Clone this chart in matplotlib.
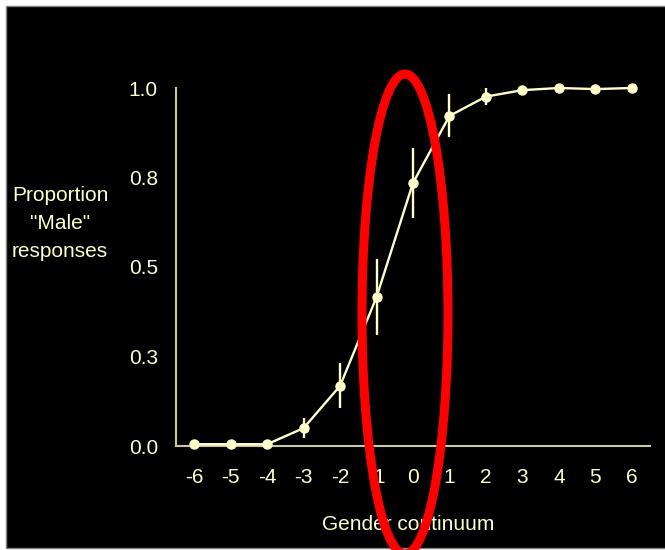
import matplotlib
matplotlib.use("Agg")
import matplotlib.pyplot as plt
from matplotlib.patches import Ellipse, Rectangle

plt.rcParams['font.family'] = ['Liberation Sans', 'DejaVu Sans']

# gender continuum steps and proportion of "male" responses
steps = [-6, -5, -4, -3, -2, -1, 0, 1, 2, 3, 4, 5, 6]
prop_male = [0.005, 0.005, 0.005, 0.05, 0.168, 0.416, 0.735, 0.922, 0.976, 0.994, 1.0, 0.997, 1.0]
err = [0, 0, 0, 0.028, 0.063, 0.106, 0.098, 0.06, 0.023, 0, 0, 0, 0]

y_ticks = [0, 0.25, 0.5, 0.75, 1.0]
y_tick_labels = ["0.0", "0.3", "0.5", "0.8", "1.0"]

cream = "#FFFFCC"
axis_col = "#C8C8A8"

fig = plt.figure(figsize=(6.65, 5.5), dpi=100)
fig.patch.set_facecolor("white")

# black slide area with a thin grey frame
fig.patches.append(Rectangle((6 / 665, 2 / 550), 665 / 665, 542 / 550,
                             transform=fig.transFigure, facecolor="black",
                             edgecolor="#808080", linewidth=1, zorder=-5))

ax = fig.add_axes([176 / 665, 1 - 446 / 550, 474 / 665, 358 / 550])
ax.set_facecolor("none")
ax.set_zorder(2)

ax.errorbar(steps, prop_male, yerr=err, color=cream, ecolor=cream,
            elinewidth=1.7, capsize=0, marker="o", markersize=6.5,
            linewidth=1.7, clip_on=False, zorder=3)

ax.set_xlim(-6.5, 6.5)
ax.set_ylim(0, 1)
ax.set_xticks(steps)
ax.set_xticklabels([str(s) for s in steps])
ax.set_yticks(y_ticks)
ax.set_yticklabels(y_tick_labels)
ax.tick_params(axis="both", length=0, colors=cream, labelsize=15)
ax.tick_params(axis="x", pad=16)
ax.tick_params(axis="y", pad=13)

for side in ["top", "right"]:
    ax.spines[side].set_visible(False)
for side in ["left", "bottom"]:
    ax.spines[side].set_color(axis_col)
    ax.spines[side].set_linewidth(1.5)

fig.text(60 / 665, 1 - 223 / 550, 'Proportion\n"Male"\nresponses', color=cream,
         fontsize=15, ha="center", va="center", linespacing=1.6, zorder=3)
fig.text(408 / 665, 1 - 524 / 550, "Gender continuum", color=cream,
         fontsize=15, ha="center", va="center", zorder=3)

# red highlight around the category boundary
fig.patches.append(Ellipse((405 / 665, 1 - 314 / 550), 86 / 665, 480 / 550,
                           transform=fig.transFigure, fill=False,
                           edgecolor="#FF0000", linewidth=6.5, zorder=10))

fig.savefig("out.png", dpi=100, facecolor=fig.get_facecolor())
